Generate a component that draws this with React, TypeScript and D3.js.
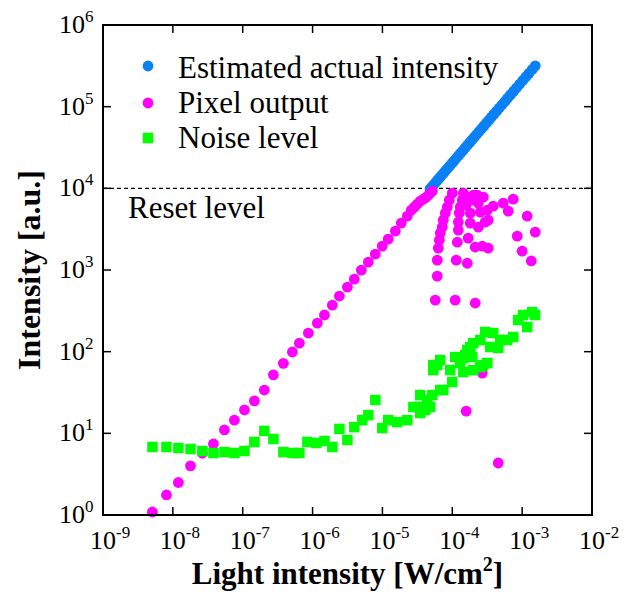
import React from 'react';
import * as d3 from 'd3';

// ---------- data ----------
const xTickExps = [-9, -8, -7, -6, -5, -4, -3, -2];
const yTickExps = [0, 1, 2, 3, 4, 5, 6];
const resetLevel = 1e4;
const legendLabels = ['Estimated actual intensity', 'Pixel output', 'Noise level'];

// Estimated actual intensity (blue)
const estLight = [
  4.8e-5, 5.1e-5, 5.4e-5, 5.8e-5, 6.2e-5, 6.6e-5, 7.0e-5, 7.5e-5, 8.0e-5, 8.6e-5,
  9.2e-5, 9.9e-5, 1.06e-4, 1.14e-4, 1.23e-4, 1.32e-4, 1.42e-4, 1.53e-4, 1.65e-4, 1.78e-4,
  1.92e-4, 2.07e-4, 2.24e-4, 2.42e-4, 2.62e-4, 2.84e-4, 3.08e-4, 3.34e-4, 3.63e-4, 3.95e-4,
  4.3e-4, 4.7e-4, 5.15e-4, 5.65e-4, 6.2e-4, 6.8e-4, 7.5e-4, 8.3e-4, 9.2e-4, 1.02e-3,
  1.13e-3, 1.25e-3, 1.39e-3, 1.54e-3,
];
const estIntensity = [
  9840, 10450, 11070, 11890, 12710, 13530, 14350, 15380, 16400, 17630,
  18860, 20300, 21730, 23370, 25200, 27060, 29100, 31370, 33800, 36500,
  39400, 42400, 45900, 49600, 53700, 58200, 63100, 68500, 74400, 81000,
  88200, 96400, 105600, 115800, 127100, 139400, 153800, 170000, 188600, 209000,
  231700, 256000, 285000, 316000,
];

// Pixel output (magenta)
const pixLight = [
  5.1e-9, 8.1e-9, 1.2e-8, 1.79e-8, 2.65e-8, 3.81e-8, 5.47e-8, 7.6e-8, 1.06e-7, 1.47e-7,
  2.04e-7, 2.75e-7, 3.82e-7, 5.14e-7, 6.47e-7, 8.7e-7, 1.17e-6, 1.48e-6, 1.92e-6, 2.42e-6,
  3.15e-6, 3.96e-6, 4.99e-6, 6.28e-6, 7.9e-6, 9.95e-6, 1.21e-5, 1.53e-5, 1.86e-5, 2.27e-5,
  2.59e-5, 2.86e-5, 3.15e-5, 3.48e-5, 3.85e-5, 4.25e-5, 4.69e-5, 5.18e-5,
  1.0e-4, 9.06e-5, 8.49e-5, 7.94e-5, 7.43e-5, 7.19e-5, 6.73e-5, 6.52e-5, 6.31e-5, 6.09e-5, 6.09e-5, 5.71e-5,
  1.44e-4, 1.39e-4, 1.3e-4, 1.26e-4, 1.22e-4, 1.22e-4, 1.18e-4, 1.14e-4, 1.1e-4,
  2.0e-4, 2.28e-4, 2.78e-4, 1.69e-4, 1.93e-4, 2.36e-4, 1.58e-4, 3.17e-4, 2.52e-4, 1.81e-4,
  1.81e-4, 2.36e-4, 2.96e-4, 3.27e-4, 2.13e-4, 2.69e-4, 3.27e-4, 3.86e-4, 5.37e-4, 6.32e-4,
  7.46e-4, 1.18e-3, 1.54e-3, 8.51e-4, 1.0e-3, 1.35e-3, 1.64e-4, 1.69e-4, 2.13e-4, 2.69e-4,
  1.58e-4, 4.55e-4,
];
const pixOutput = [
  1.09, 1.76, 2.5, 4.0, 5.7, 7.4, 11.0, 14.5, 19.3, 25,
  33.9, 52, 72, 99, 127, 169, 224, 281, 372, 480,
  618, 774, 997, 1250, 1566, 1963, 2390, 2994, 3750, 4570,
  5410, 5890, 6410, 6970, 7380, 7800, 8490, 9250,
  8730, 7170, 5890, 4970, 4080, 3350, 2830, 2320, 1850, 1320, 842, 428,
  8730, 7170, 5890, 4970, 3860, 3080, 2190, 1320, 428,
  8260, 8260, 7800, 7800, 7170, 6590, 6200, 5410, 5110, 4970,
  3750, 3350, 3860, 4080, 1910, 1960, 1850, 6050, 6590, 5260,
  7380, 4570, 2910, 2600, 1700, 1290, 1210, 2460, 394, 54.7,
  18.7, 4.33,
];

// Noise level (green)
const noiseLight = [
  5.11e-9, 8.1e-9, 1.2e-8, 1.79e-8, 2.65e-8, 3.81e-8, 5.47e-8, 7.6e-8, 1.06e-7, 1.47e-7,
  2.04e-7, 2.75e-7, 3.82e-7, 5.14e-7, 6.47e-7, 8.42e-7, 1.13e-6, 1.48e-6, 1.92e-6, 2.42e-6,
  3.15e-6, 3.96e-6, 5.15e-6, 6.28e-6, 7.91e-6, 9.95e-6, 1.21e-5, 1.63e-5, 2.27e-5, 2.77e-5,
  3.26e-5, 3.48e-5, 4.1e-5, 4.38e-5, 4.84e-5, 3.48e-5, 5.18e-5, 5.35e-5, 5.35e-5, 6.09e-5,
  6.73e-5, 7.43e-5, 1.0e-4, 6.73e-5, 9.35e-5, 1.1e-4, 1.3e-4, 1.44e-4, 1.44e-4, 1.53e-4,
  1.64e-4, 1.81e-4, 2.0e-4, 1.93e-4, 2.0e-4, 2.52e-4, 2.96e-4, 3.86e-4, 3.17e-4, 2.78e-4,
  2.52e-4, 3.49e-4, 4.55e-4, 4.86e-4, 6.11e-4, 7.45e-4, 8.77e-4, 1.18e-3, 1.03e-3, 1.39e-3,
  1.53e-3,
];
const noiseLevel = [
  6.8, 6.8, 6.61, 6.42, 6.07, 5.74, 5.9, 5.74, 6.07, 7.83,
  10.7, 8.51, 5.9, 5.74, 5.74, 7.83, 7.61, 8.05, 6.8, 11.3,
  8.28, 11.9, 14.5, 16.7, 25.6, 11.6, 14.5, 13.7, 14.5, 21.0,
  21.0, 29.4, 19.3, 25.6, 21.0, 17.7, 29.4, 59.5, 68.5, 68.5,
  33.9, 33.9, 42.5, 78.9, 59.5, 85.9, 72.5, 56.3, 83.5, 90.9,
  105, 114, 127, 85.9, 59.5, 139, 174, 169, 72.5, 68.5,
  64.8, 114, 111, 139, 139, 151, 244, 200, 281, 305,
  281,
];

const BLUE = '#0a80f5';
const PINK = '#ff00ff';
const GREEN = '#00ff00';
const SERIF = '"Liberation Serif", "Times New Roman", Times, serif';

export default function App() {
  const W = 629;
  const H = 595;
  const L = 103, R = 592, T = 25, B = 515;
  const x = d3.scaleLog().domain([1e-9, 1e-2]).range([L, R]);
  const y = d3.scaleLog().domain([1, 1e6]).range([B, T]);
  const tickLen = 8;
  const r = 5.4;
  const sq = 10.5;

  const est = estLight.map((l, i) => ({ l, v: estIntensity[i] }));
  const pix = pixLight.map((l, i) => ({ l, v: pixOutput[i] }));
  const noise = noiseLight.map((l, i) => ({ l, v: noiseLevel[i] }));

  return (
    <svg width={W} height={H} style={{ position: 'absolute', left: 0, top: 0, background: '#fff' }}
      fontFamily={SERIF}>
      <rect x={0} y={0} width={W} height={H} fill="#fff" />
      {/* reset level dashed line */}
      <line x1={L} x2={R} y1={y(resetLevel)} y2={y(resetLevel)} stroke="#000" strokeWidth={1.3} strokeDasharray="4,3" />
      <text x={128} y={y(resetLevel) + 30} fontSize={31}>Reset level</text>

      {/* data */}
      <g>
        {est.map((d, i) => (
          <circle key={'e' + i} cx={x(d.l)} cy={y(d.v)} r={r} fill={BLUE} />
        ))}
      </g>
      <g>
        {pix.map((d, i) => (
          <circle key={'p' + i} cx={x(d.l)} cy={y(d.v)} r={r} fill={PINK} />
        ))}
      </g>
      <g>
        {noise.map((d, i) => (
          <rect key={'n' + i} x={x(d.l) - sq / 2} y={y(d.v) - sq / 2} width={sq} height={sq} fill={GREEN} />
        ))}
      </g>

      {/* frame */}
      <rect x={L} y={T} width={R - L} height={B - T} fill="none" stroke="#000" strokeWidth={2} />
      {/* x ticks */}
      {xTickExps.map((e) => {
        const xv = x(Math.pow(10, e));
        return (
          <g key={'xt' + e}>
            <line x1={xv} x2={xv} y1={B} y2={B - tickLen} stroke="#000" strokeWidth={1.5} />
            <line x1={xv} x2={xv} y1={T} y2={T + tickLen} stroke="#000" strokeWidth={1.5} />
            <text x={xv - 13} y={549} fontSize={26}>10</text>
            <text x={xv + 13} y={538} fontSize={17}>{e < 0 ? '-' + Math.abs(e) : e}</text>
          </g>
        );
      })}
      {/* y ticks */}
      {yTickExps.map((e) => {
        const yv = y(Math.pow(10, e));
        return (
          <g key={'yt' + e}>
            <line x1={L} x2={L + tickLen} y1={yv} y2={yv} stroke="#000" strokeWidth={1.5} />
            <line x1={R} x2={R - tickLen} y1={yv} y2={yv} stroke="#000" strokeWidth={1.5} />
            <text x={85} y={yv + 8} fontSize={26} textAnchor="end">10</text>
            <text x={85} y={yv - 3} fontSize={17}>{e}</text>
          </g>
        );
      })}

      {/* legend */}
      <circle cx={148} cy={66} r={r} fill={BLUE} />
      <text x={178} y={78} fontSize={31}>{legendLabels[0]}</text>
      <circle cx={148} cy={103} r={r} fill={PINK} />
      <text x={178} y={113} fontSize={31}>{legendLabels[1]}</text>
      <rect x={148 - sq / 2} y={138 - sq / 2} width={sq} height={sq} fill={GREEN} />
      <text x={178} y={148} fontSize={31}>{legendLabels[2]}</text>

      {/* axis titles */}
      <text x={(L + R) / 2} y={584} fontSize={31} fontWeight="bold" textAnchor="middle">
        Light intensity [W/cm<tspan dy={-13} fontSize={20}>2</tspan><tspan dy={13}>]</tspan>
      </text>
      <text transform={`translate(40, ${(T + B) / 2}) rotate(-90)`} fontSize={32} fontWeight="bold" textAnchor="middle">
        Intensity [a.u.]
      </text>
    </svg>
  );
}
